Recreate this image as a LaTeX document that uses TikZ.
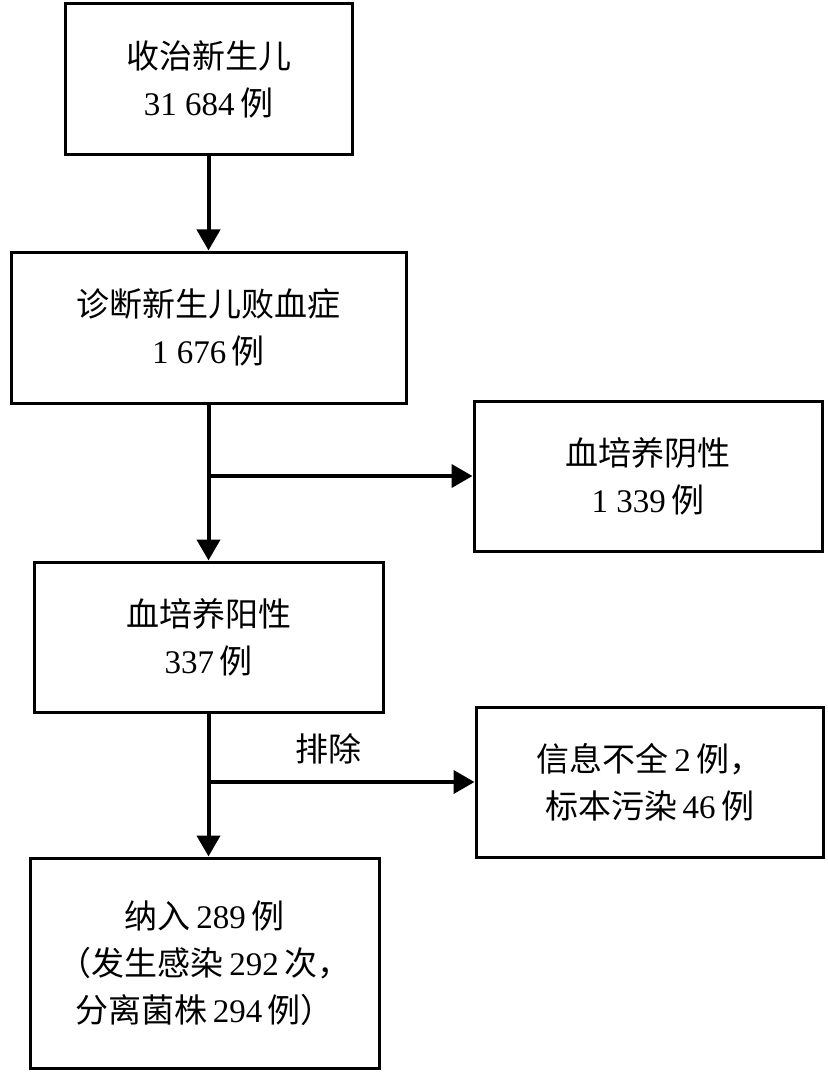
\documentclass[tikz,border=0pt]{standalone}
\usepackage{fontspec}
\setmainfont{Liberation Serif}
\newfontfamily\cjk{Noto Sans CJK SC}
\usetikzlibrary{arrows.meta}
\begin{document}
\begin{tikzpicture}[x=1pt,y=-1pt,
    box/.style={draw,line width=3pt,align=center,inner sep=0pt,
        font=\fontsize{33}{47}\selectfont},
    lbl/.style={font=\fontsize{33}{47}\selectfont,inner sep=0pt},
    arr/.style={line width=4pt,-{Triangle[length=21pt,width=23pt]}}]
    \useasboundingbox (0,0) rectangle (827,1075);
    \node[box,minimum width=287pt,minimum height=151pt] (recv) at (208.5,79.5)
        {{\cjk 收治新生儿}\\31 684\,{\cjk 例}};
    \node[box,minimum width=395pt,minimum height=151pt] (diag) at (208.5,327.5)
        {{\cjk 诊断新生儿败血症}\\1 676\,{\cjk 例}};
    \node[box,minimum width=348pt,minimum height=150pt] (neg) at (648,476)
        {{\cjk 血培养阴性}\\1 339\,{\cjk 例}};
    \node[box,minimum width=349pt,minimum height=150pt] (pos) at (208.5,637)
        {{\cjk 血培养阳性}\\337\,{\cjk 例}};
    \node[box,minimum width=347pt,minimum height=150pt] (excl) at (649.5,782)
        {{\cjk 信息不全}\,2\,{\cjk 例，}\\{\cjk 标本污染}\,46\,{\cjk 例}};
    \node[box,minimum width=349pt,minimum height=210pt] (incl) at (204.5,963)
        {{\cjk 纳入}\,289\,{\cjk 例}\\{\cjk （发生感染}\,292\,{\cjk 次，}\\{\cjk 分离菌株}\,294\,{\cjk 例）}};
    % arrows
    \draw[arr] (recv) -- (diag);
    \draw[arr] (diag) -- (pos);
    \draw[arr] (diag.south |- neg.west) -- (neg.west);
    \draw[arr] (pos.south) -- (pos.south |- incl.north);
    \draw[arr] (pos.south |- excl.west) -- node[lbl,pos=0.45,above=16pt] (cut) {\cjk 排除} (excl.west);
\end{tikzpicture}
\end{document}
